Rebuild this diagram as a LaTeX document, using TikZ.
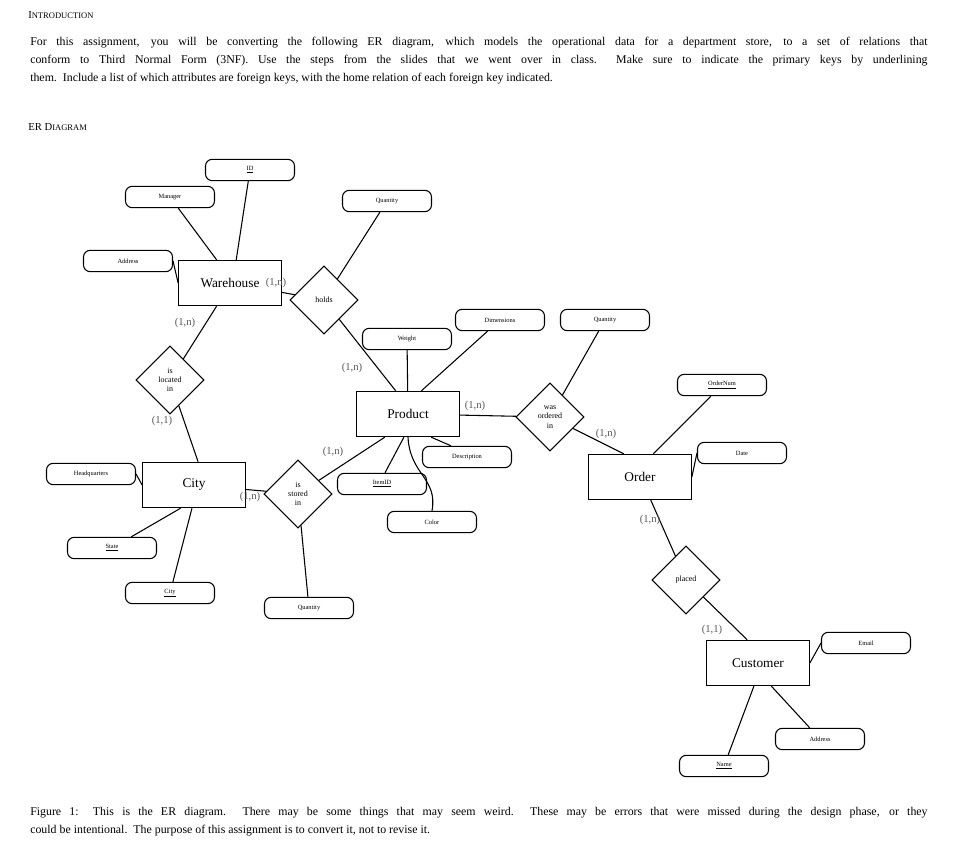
\documentclass[tikz,border=0pt]{standalone}
\usepackage{fontspec}
\setmainfont{Liberation Serif}
\usetikzlibrary{shapes.geometric}
\newcommand{\fsc}[2]{#1{\fontsize{6.4}{8}\selectfont #2}}
\tikzset{
 attr/.style={draw,thick,rounded corners=5pt,minimum width=66.75pt,minimum height=16pt,inner sep=0pt,font=\fontsize{4.8}{5}\selectfont},
 ent/.style={draw,thick,minimum width=77pt,minimum height=34pt,inner sep=0pt,font=\fontsize{10}{12}\selectfont},
 rel/.style={draw,thick,diamond,aspect=1,minimum size=51pt,inner sep=0pt,align=center,font=\fontsize{6}{7}\selectfont},
 card/.style={text=black!65,font=\fontsize{8}{9}\selectfont,inner sep=0pt},
 con/.style={thick},
 para/.style={anchor=north west,align=justify,text width=673pt,inner sep=0pt,font=\fontsize{8.9}{13.5}\selectfont}
}
\begin{document}
\begin{tikzpicture}[x=0.75pt,y=-0.75pt]
\useasboundingbox (0,0) rectangle (976,852);
\node[anchor=west,inner sep=0pt,font=\fontsize{8}{9}\selectfont] (intro) at (28,15) {\fsc{I}{NTRODUCTION}};
\node[para] (p) at (30,37) {For this assignment, you will be converting the following ER diagram, which models the operational data for a department store, to a set of relations that\linebreak conform to Third Normal Form (3NF). Use the steps from the slides that we went over in class.\ \ Make sure to indicate the primary keys by underlining\linebreak them.\ \ Include a list of which attributes are foreign keys, with the home relation of each foreign key indicated.};
\node[anchor=west,inner sep=0pt,font=\fontsize{8}{9}\selectfont] (erd) at (28,127) {\fsc{ER D}{IAGRAM}};
% entities
\node[ent] (wh) at (230,283) {Warehouse};
\node[ent] (prod) at (408,414) {Product};
\node[ent] (ord) at (640,477) {Order};
\node[ent] (city) at (194,485) {City};
\node[ent] (cust) at (758,663) {Customer};
% relationships
\node[rel] (holds) at (324,300) {holds};
\node[rel] (wasord) at (550,417) {was\\ordered\\in};
\node[rel] (loc) at (170,380) {is\\located\\in};
\node[rel] (stored) at (298,494) {is\\stored\\in};
\node[rel] (placed) at (686,580) {placed};
% attributes
\node[attr] (id) at (250,170) {\underline{ID}};
\node[attr] (mgr) at (170,197) {Manager};
\node[attr] (qh) at (387,201) {Quantity};
\node[attr] (waddr) at (128,261) {Address};
\node[attr] (wgt) at (407,339) {Weight};
\node[attr] (dim) at (500,320) {Dimensions};
\node[attr] (qo) at (605,320) {Quantity};
\node[attr] (onum) at (722,385) {\underline{OrderNum}};
\node[attr] (date) at (742,453) {Date};
\node[attr] (desc) at (467,457) {Description};
\node[attr] (item) at (382,484) {\underline{ItemID}};
\node[attr] (color) at (432,522) {Color};
\node[attr] (hq) at (91,474) {Headquarters};
\node[attr] (state) at (112,548) {\underline{State}};
\node[attr] (cattr) at (170,593) {\underline{City}};
\node[attr] (qs) at (309,608) {Quantity};
\node[attr] (email) at (866,643) {Email};
\node[attr] (caddr) at (820,739) {Address};
\node[attr] (name) at (724,766) {\underline{Name}};
% connectors
\draw[con] (mgr) -- (wh.120);
\draw[con] (id) -- (wh.75);
\draw[con] (waddr.east) -- (wh.west);
\draw[con] (wh) -- (holds);
\draw[con] (holds) -- (qh);
\draw[con] (holds) -- (prod.118);
\draw[con] (wgt) -- (prod);
\draw[con] (dim) -- (prod.60);
\draw[con] (prod) -- (wasord);
\draw[con] (wasord) -- (qo);
\draw[con] (wasord) -- (ord.125);
\draw[con] (onum) -- (ord.60);
\draw[con] (date.west) -- (ord.east);
\draw[con] (ord.-65) -- (placed);
\draw[con] (placed) -- (cust.115);
\draw[con] (email.west) -- (cust.east);
\draw[con] (cust.-60) -- (caddr);
\draw[con] (cust.-100) -- (name);
\draw[con] (wh.-120) -- (loc);
\draw[con] (loc) -- (city.80);
\draw[con] (hq.east) -- (city.west);
\draw[con] (city.-120) -- (state);
\draw[con] (city.-95) -- (cattr);
\draw[con] (city) -- (stored);
\draw[con] (stored) -- (prod.-135);
\draw[con] (stored) -- (qs);
\draw[con] (prod.-100) -- (item.75);
\draw[con] (prod.-45) -- (desc.145);
\draw[con] (prod.-90) .. controls (410,475) and (438,478) .. (color.north);
% cardinalities
\node[card] (c1) at (185,323) {(1,n)};
\node[card] (c2) at (276,283) {(1,n)};
\node[card] (c3) at (352,368) {(1,n)};
\node[card] (c4) at (162,421) {(1,1)};
\node[card] (c5) at (333,452) {(1,n)};
\node[card] (c6) at (250,497) {(1,n)};
\node[card] (c7) at (475,406) {(1,n)};
\node[card] (c8) at (606,434) {(1,n)};
\node[card] (c9) at (650,520) {(1,n)};
\node[card] (c10) at (712,630) {(1,1)};
% caption
\node[para] (cap) at (30,807) {Figure 1: This is the ER diagram.\ \ There may be some things that may seem weird.\ \ These may be errors that were missed during the design phase, or they\linebreak could be intentional.\ \ The purpose of this assignment is to convert it, not to revise it.};
\end{tikzpicture}
\end{document}
